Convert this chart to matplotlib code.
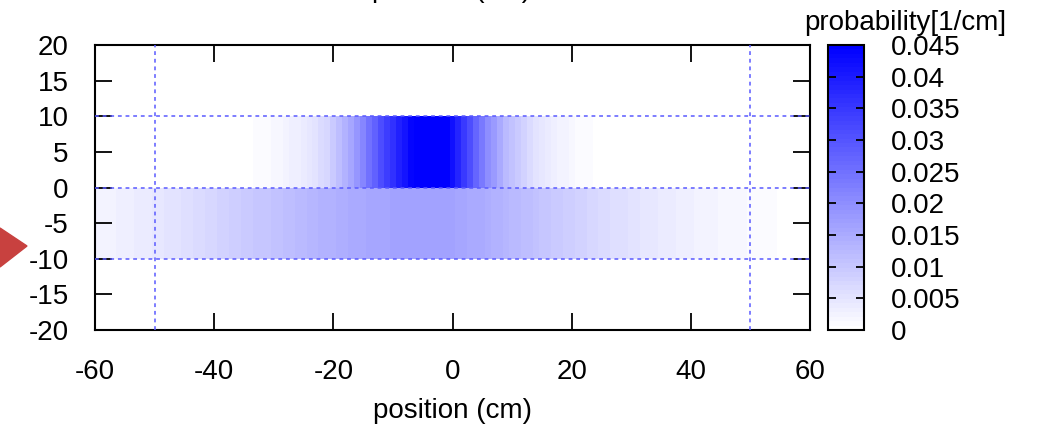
import matplotlib
matplotlib.use("Agg")
import matplotlib.pyplot as plt
import numpy as np
from matplotlib.colors import LinearSegmentedColormap
from matplotlib.patches import Polygon

plt.rcParams['font.family'] = ['Liberation Sans', 'DejaVu Sans']
plt.rcParams['font.size'] = 20
plt.rcParams['axes.unicode_minus'] = False

# positions of the cells (cm) and the two bands in y
pos = np.arange(-60, 61)
band_edges = [-10, 0, 10]

# lower band, y in [-10, 0]
lower = [0.0023, 0.0024, 0.0026, 0.0028, 0.0030, 0.0032,
         0.0034, 0.0037, 0.0040, 0.0042, 0.0045,
         0.0048, 0.0050, 0.0053, 0.0056, 0.0059,
         0.0062, 0.0066, 0.0069, 0.0073, 0.0077,
         0.0080, 0.0084, 0.0087, 0.0091, 0.0095,
         0.0097, 0.0100, 0.0103, 0.0105, 0.0108,
         0.0112, 0.0115, 0.0119, 0.0122, 0.0126,
         0.0129, 0.0131, 0.0134, 0.0137, 0.0140,
         0.0142, 0.0145, 0.0148, 0.0150, 0.0153,
         0.0155, 0.0157, 0.0158, 0.0160, 0.0162,
         0.0163, 0.0164, 0.0165, 0.0166, 0.0167,
         0.0166, 0.0165, 0.0164, 0.0163, 0.0162,
         0.0159, 0.0157, 0.0154, 0.0151, 0.0149,
         0.0144, 0.0140, 0.0135, 0.0131, 0.0126,
         0.0122, 0.0117, 0.0113, 0.0108, 0.0104,
         0.0100, 0.0096, 0.0093, 0.0089, 0.0086,
         0.0082, 0.0078, 0.0075, 0.0071, 0.0068,
         0.0065, 0.0062, 0.0059, 0.0057, 0.0054,
         0.0051, 0.0049, 0.0046, 0.0043, 0.0041,
         0.0038, 0.0036, 0.0034, 0.0032, 0.0029,
         0.0027, 0.0026, 0.0024, 0.0022, 0.0020,
         0.0019, 0.0018, 0.0016, 0.0015, 0.0014,
         0.0012, 0.0011, 0.0009, 0.0008, 0.0007,
         0.0006, 0.0005, 0.0005, 0.0004, 0.0004]

# upper band, y in [0, 10]
upper = [0.0] * 24 + [
    0.0003, 0.0004, 0.0006, 0.0008, 0.0010, 0.0013, 0.0016,   # -36 .. -30
    0.0020, 0.0024, 0.0029, 0.0034, 0.0040, 0.0047, 0.0055,   # -29 .. -23
    0.0064, 0.0077, 0.0095, 0.0113, 0.0135, 0.0158, 0.0185,   # -22 .. -16
    0.0216, 0.0248, 0.0279, 0.0311, 0.0338, 0.0365, 0.0392,   # -15 .. -9
    0.0414, 0.0437, 0.0455, 0.0473, 0.0486, 0.0491, 0.0482,   # -8 .. -2
    0.0459, 0.0419, 0.0383, 0.0347, 0.0311, 0.0270, 0.0234,   # -1 .. 5
    0.0203, 0.0176, 0.0149, 0.0126, 0.0108, 0.0092, 0.0079,   # 6 .. 12
    0.0066, 0.0056, 0.0047, 0.0039, 0.0032, 0.0027, 0.0022,   # 13 .. 19
    0.0018, 0.0014, 0.0011, 0.0008, 0.0005, 0.0003, 0.0001,   # 20 .. 26
] + [0.0] * 34

cb_ticks = [0, 0.005, 0.01, 0.015, 0.02, 0.025, 0.03, 0.035, 0.04, 0.045]
cb_labels = ['0', '0.005', '0.01', '0.015', '0.02', '0.025', '0.03', '0.035', '0.04', '0.045']

cmap = LinearSegmentedColormap.from_list('wb', ['#ffffff', '#0000ff'], N=64)

fig = plt.figure(figsize=(10.4, 4.3), dpi=100)
ax = fig.add_axes([95 / 1040, 100 / 430, 715 / 1040, 285 / 430])
cax = fig.add_axes([828 / 1040, 100 / 430, 36 / 1040, 285 / 430])

xedges = np.append(pos - 0.5, pos[-1] + 0.5)
Z = np.array([lower, upper])
mesh = ax.pcolormesh(xedges, band_edges, Z, cmap=cmap, vmin=0, vmax=0.045,
                     shading='flat', rasterized=True)

ax.set_xlim(-60, 60)
ax.set_ylim(-20, 20)
ax.set_xticks(np.arange(-60, 61, 20))
ax.set_yticks(np.arange(-20, 21, 5))
ax.tick_params(direction='in', length=12, width=1.3, top=True, right=True)
ax.tick_params(axis='x', pad=21)
ax.tick_params(axis='y', pad=19)
for s in ax.spines.values():
    s.set_linewidth(1.5)

gstyle = dict(color='#5a5aff', lw=1.1, ls=(0, (2.5, 2.5)), zorder=3)
for gx in [-50, 50]:
    ax.axvline(gx, **gstyle)
for gy in [-10, 0, 10]:
    ax.axhline(gy, **gstyle)

ax.set_xlabel('position (cm)', labelpad=9)

cb = fig.colorbar(mesh, cax=cax, ticks=cb_ticks)
cb.ax.set_yticklabels(cb_labels)
cb.ax.tick_params(direction='in', length=6, width=1.3, left=True, right=True, pad=19)
cb.outline.set_linewidth(1.5)
fig.text(905 / 1040, 1 - 23 / 430, 'probability[1/cm]', ha='center', va='center')

# title cut off by the top edge, as in the original
fig.text(452 / 1040, 1 + 3 / 430, 'position (cm)', ha='center', va='baseline')

fig.patches.append(Polygon([[0, 1 - 228 / 430], [27 / 1040, 1 - 246 / 430], [0, 1 - 267 / 430]],
                           closed=True, transform=fig.transFigure, color='#c8413f'))

fig.savefig('out.png', dpi=100)
